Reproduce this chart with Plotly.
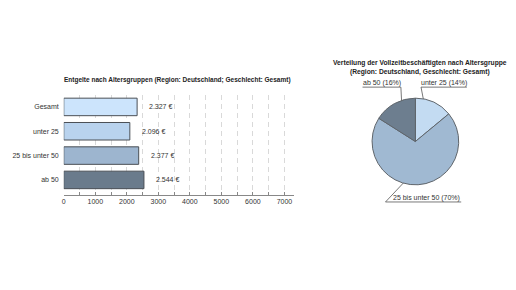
import plotly.graph_objects as go
import math

# ---- data ----
bar_categories = ["Gesamt", "unter 25", "25 bis unter 50", "ab 50"]
bar_values = [2327, 2096, 2377, 2544]
bar_colors = ["#cce4fc", "#b9d3ee", "#9db5cf", "#6a7b8c"]

pie_labels = ["unter 25", "25 bis unter 50", "ab 50"]
pie_values = [14, 70, 16]
pie_colors = ["#c3dbf2", "#a0b9d2", "#6d7e8f"]

x_ticks = [0, 1000, 2000, 3000, 4000, 5000, 6000, 7000]

W, H = 516, 290
FONT = "Liberation Sans, Arial, sans-serif"
TXT = "#333333"

def px(x):
    return x / W

def py(y):
    return (H - y) / H

fig = go.Figure()

# ---- bar chart ----
fig.add_trace(go.Bar(
    x=bar_values, y=bar_categories, orientation="h",
    marker=dict(color=bar_colors, line=dict(color="#4a4f55", width=1)),
    width=0.72, xaxis="x", yaxis="y", showlegend=False, hoverinfo="skip",
))

for c, v in zip(bar_categories, bar_values):
    fig.add_annotation(
        x=v, y=c, xref="x", yref="y", xanchor="left", yanchor="middle",
        xshift=10, text=f"{v:,}".replace(",", ".") + " €", showarrow=False,
        font=dict(family=FONT, size=7, color=TXT),
    )

# ---- pie chart ----
cx, cy, r = 415, 141.5, 43.5
fig.add_trace(go.Pie(
    labels=pie_labels, values=pie_values, sort=False, direction="clockwise",
    rotation=0, textinfo="none", hoverinfo="skip", showlegend=False,
    marker=dict(colors=pie_colors, line=dict(color="#5f656b", width=1)),
    domain=dict(x=[px(cx - r), px(cx + r)], y=[py(cy + r), py(cy - r)]),
))

# overlay axes for leader lines (units = pie radius)
ox0, ox1, oy0, oy1 = 320, 516, 60, 225
label_pos = {
    "ab 50": (-1.22, 1.25, "right"),
    "unter 25": (0.13, 1.25, "left"),
    "25 bis unter 50": (-0.69, -1.39, "left"),
}
label_width = {"ab 50": 38.5 / r, "unter 25": 46 / r, "25 bis unter 50": 76 / r}

total = sum(pie_values)
cum = 0
for lab, val in zip(pie_labels, pie_values):
    mid = (cum + val / 2) / total * 2 * math.pi
    cum += val
    dx, dy = 0.62 * math.sin(mid), 0.62 * math.cos(mid)
    ux, uy, side = label_pos[lab]
    wdt = label_width[lab]
    lx0, lx1 = ux, ux + wdt
    joint = lx1 if side == "right" else lx0
    fig.add_trace(go.Scatter(
        x=[dx, joint, None, lx0, lx1], y=[dy, uy, None, uy, uy],
        mode="lines", line=dict(color="#555555", width=0.8),
        xaxis="x2", yaxis="y2", showlegend=False, hoverinfo="skip",
    ))
    fig.add_trace(go.Scatter(
        x=[dx], y=[dy], mode="markers", marker=dict(color="black", size=3.5),
        xaxis="x2", yaxis="y2", showlegend=False, hoverinfo="skip",
    ))
    tx = (lx0 + lx1) / 2 + (0.08 if lab == "25 bis unter 50" else 0)
    fig.add_annotation(
        x=tx, y=uy, xref="x2", yref="y2", xanchor="center", yanchor="bottom",
        yshift=-2, text=f"{lab} ({val}%)", showarrow=False,
        font=dict(family=FONT, size=7, color=TXT),
    )

# ---- titles ----
fig.add_annotation(
    x=px(176), y=py(80), xref="paper", yref="paper", xanchor="center", yanchor="middle",
    text="<b>Entgelte nach Altersgruppen (Region: Deutschland; Geschlecht: Gesamt)</b>",
    showarrow=False, font=dict(family=FONT, size=6.5, color="#222222"),
)
fig.add_annotation(
    x=px(420), y=py(67), xref="paper", yref="paper", xanchor="center", yanchor="middle",
    text="<b>Verteilung der Vollzeitbeschäftigten nach Altersgruppe<br>(Region: Deutschland, Geschlecht: Gesamt)</b>",
    showarrow=False, font=dict(family=FONT, size=6.7, color="#222222"),
)

fig.update_layout(
    width=W, height=H, margin=dict(l=0, r=0, t=0, b=0),
    paper_bgcolor="white", plot_bgcolor="white",
    font=dict(family=FONT, size=7, color=TXT),
    xaxis=dict(
        domain=[px(62), px(293)], range=[0, 7300],
        tickvals=x_ticks, ticktext=[str(t) for t in x_ticks],
        ticks="inside", ticklen=3, tickcolor="#888888",
        showline=True, linecolor="#888888", linewidth=1,
        showgrid=True, gridcolor="#d9d9d9", griddash="5px,4px", gridwidth=1,
        minor=dict(dtick=500, tick0=0, ticks="inside", ticklen=3, tickcolor="#888888",
                   showgrid=True, gridcolor="#d9d9d9", griddash="5px,4px"),
        zeroline=False, tickfont=dict(size=7, color=TXT), fixedrange=True,
    ),
    yaxis=dict(
        domain=[py(195), py(95)], range=[3.62, -0.49],
        showgrid=False, zeroline=False, showline=False, ticks="",
        ticklabelstandoff=4, tickfont=dict(size=7, color=TXT), fixedrange=True,
    ),
    xaxis2=dict(
        domain=[px(ox0), px(ox1)], range=[(ox0 - cx) / r, (ox1 - cx) / r],
        visible=False, fixedrange=True,
    ),
    yaxis2=dict(
        domain=[py(oy1), py(oy0)], range=[(cy - oy1) / r, (cy - oy0) / r],
        visible=False, fixedrange=True,
    ),
)

fig.write_html("out.html")
